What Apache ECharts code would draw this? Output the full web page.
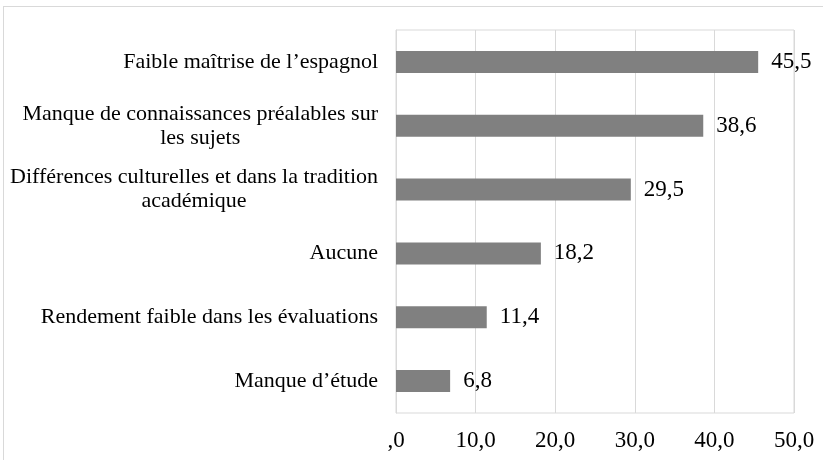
<!DOCTYPE html>
<html>
<head>
  <meta charset="utf-8">
  <title>Difficultés</title>
  <script src="https://cdn.jsdelivr.net/npm/echarts@6/dist/echarts.min.js"></script>
  <style>
    html, body { margin: 0; padding: 0; background: #fff; }
    #chart { width: 823px; height: 460px; }
  </style>
</head>
<body>
  <div id="chart"></div>
  <script>
    // categories from bottom to top (category axis starts at the bottom)
    var categories = [
      'Manque d\u2019étude',
      'Rendement faible dans les évaluations',
      'Aucune',
      'Différences culturelles et dans la tradition\nacadémique',
      'Manque de connaissances préalables sur\nles sujets',
      'Faible maîtrise de l\u2019espagnol'
    ];
    var values = [6.8, 11.4, 18.2, 29.5, 38.6, 45.5];
    var tickLabels = [',0', '10,0', '20,0', '30,0', '40,0', '50,0'];

    var serif = '"Liberation Serif", "DejaVu Serif", serif';
    var myChart = echarts.init(document.getElementById('chart'));

    var option = {
      backgroundColor: '#fff',
      animation: false,
      grid: {
        left: 396, right: 29, top: 30, bottom: 47,
        show: true, borderColor: '#d9d9d9', borderWidth: 1
      },
      xAxis: {
        type: 'value',
        min: 0, max: 50, interval: 10,
        axisLine: { show: false },
        axisTick: { show: false },
        splitLine: { show: true, lineStyle: { color: '#d9d9d9', width: 1 } },
        axisLabel: {
          margin: 16,
          fontFamily: serif, fontSize: 23, color: '#000',
          formatter: function (v) { return tickLabels[Math.round(v / 10)]; }
        }
      },
      yAxis: {
        type: 'category',
        data: categories,
        axisLine: { show: true, lineStyle: { color: '#d9d9d9' } },
        axisTick: { show: false },
        axisLabel: {
          margin: 18,
          fontFamily: serif, fontSize: 22, color: '#000',
          lineHeight: 24,
          formatter: function (v) {
            // second line is centred under the first, like the original
            var parts = v.split('\n');
            if (parts.length === 1) return v;
            return '{a|' + parts[0] + '}\n{c|' + parts[1] + '}';
          },
          rich: {
            a: { fontFamily: serif, fontSize: 22, color: '#000', lineHeight: 24 },
            c: { fontFamily: serif, fontSize: 22, color: '#000', lineHeight: 24, align: 'center' }
          }
        }
      },
      series: [{
        type: 'bar',
        data: values,
        barWidth: 22,
        itemStyle: { color: '#808080' },
        label: {
          show: true,
          position: 'right',
          distance: 13,
          fontFamily: serif, fontSize: 23, color: '#000',
          formatter: function (p) { return p.value.toFixed(1).replace('.', ','); }
        }
      }],
      graphic: [
        { type: 'line', shape: { x1: 3.5, y1: 6, x2: 3.5, y2: 460 }, style: { stroke: '#d9d9d9', lineWidth: 1 } },
        { type: 'line', shape: { x1: 3, y1: 6.5, x2: 823, y2: 6.5 }, style: { stroke: '#d9d9d9', lineWidth: 1 } }
      ]
    };

    myChart.setOption(option);
  </script>
</body>
</html>
